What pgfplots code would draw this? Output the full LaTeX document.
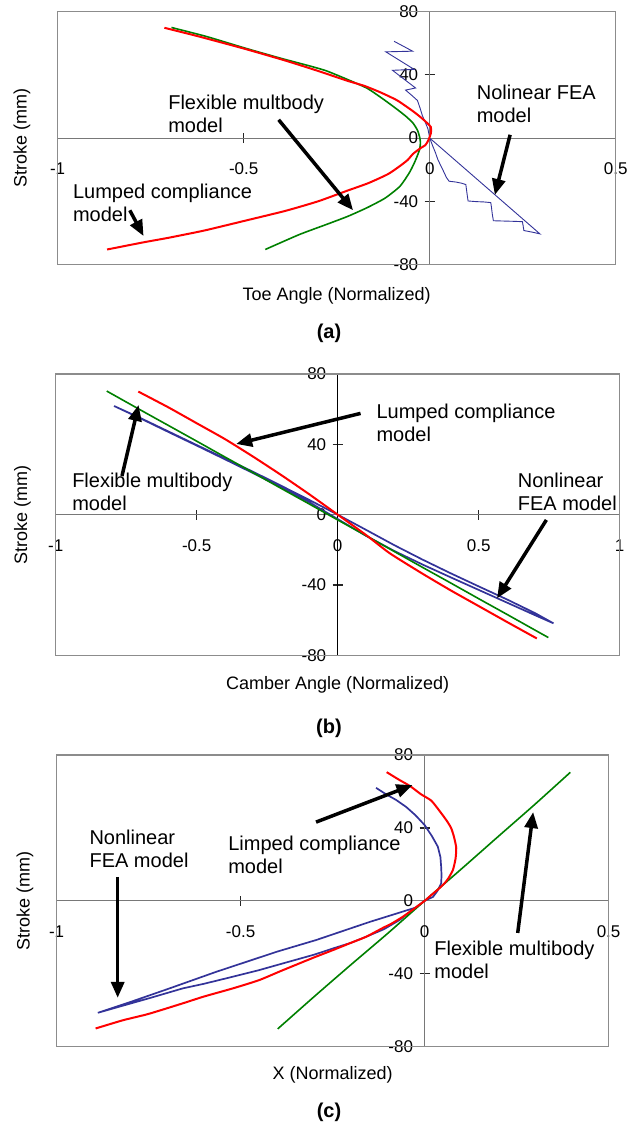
\documentclass[border=0pt]{standalone}
\usepackage{pgfplots}
\pgfplotsset{compat=1.18}
\usepackage{fontspec}
\setmainfont{Liberation Sans}
\usetikzlibrary{arrows.meta}

\definecolor{xlred}{RGB}{255,0,0}
\definecolor{xlgreen}{RGB}{0,128,0}
\definecolor{xlblue}{RGB}{51,51,153}
\definecolor{axgray}{RGB}{120,120,120}
\definecolor{framegray}{RGB}{140,140,140}

\newcommand{\annot}{\fontsize{20}{23}\selectfont}
\newcommand{\titlefont}{\fontsize{18}{21}\selectfont}
\tikzset{callout/.style={line width=3.5pt, black, -{Triangle[length=16pt,width=13pt]}}}

\pgfplotsset{
  panel/.style={
    scale only axis, anchor=south west,
    axis lines=middle,
    axis line style={line width=1.2pt, color=axgray},
    every inner x axis line/.append style={-},
    every inner y axis line/.append style={-},
    ymin=-80, ymax=80,
    ytick={-80,-40,0,40,80},
    yticklabels={-80,-40,0,40,80},
    tick align=center, major tick length=10pt,
    tick style={line width=1.2pt, color=black!85},
    hide obscured x ticks=false, hide obscured y ticks=false,
    tick label style={font=\fontsize{17}{20}\selectfont},
    xticklabel style={anchor=center, yshift=-26pt},
    yticklabel style={anchor=east, xshift=-3pt},
    ylabel={Stroke (mm)},
    every axis y label/.style={rotate=90, anchor=center, font=\titlefont},
    every axis x label/.style={anchor=center, font=\titlefont},
    clip=false,
    after end axis/.code={\draw[framegray, line width=1.2pt] (rel axis cs:0,0) rectangle (rel axis cs:1,1);},
  },
  red curve/.style={xlred, line width=2pt, no marks, smooth, tension=0.35},
  green curve/.style={xlgreen, line width=1.6pt, no marks, smooth, tension=0.35},
  blue curve/.style={xlblue, line width=1.7pt, no marks},
}

\begin{document}
\begin{tikzpicture}
\useasboundingbox (0pt,0pt) rectangle (639pt,-1125pt);

% ---------------- (a) toe angle ----------------
\begin{axis}[panel,
  at={(57.6pt,-264.5pt)}, width=558.2pt, height=252.8pt,
  xmin=-1, xmax=0.5,
  xtick={-1,-0.5,0,0.5}, xticklabels={-1,-0.5,0,0.5},
  xlabel={Toe Angle (Normalized)},
  xlabel style={at={(rel axis cs:0.5,-0.1246)}},
  ylabel style={at={(rel axis cs:-0.0638,0.5)}},
]
\addplot[xlblue, line width=0.9pt, no marks] coordinates {
 (-0.096,61.3) (-0.046,55) (-0.118,54.6) (-0.042,43.5) (-0.100,42.9)
 (-0.069,37.3) (-0.038,31.7) (-0.065,30.4) (-0.048,27) (-0.033,23.8)
 (-0.026,19) (-0.020,14.4) (-0.012,10) (-0.005,6) (0,0)
 (0.008,-5) (0.015,-9) (0.022,-13.7) (0.035,-20) (0.045,-25)
 (0.052,-27.3) (0.070,-27.8) (0.085,-28.5) (0.097,-29.4) (0.099,-33)
 (0.101,-36.5) (0.103,-39.8) (0.125,-40.2) (0.145,-40.4) (0.164,-40.8)
 (0.166,-44) (0.168,-48) (0.171,-52.3) (0.200,-52.5) (0.230,-52.7)
 (0.249,-52.9) (0.251,-55.5) (0.253,-58.5) (0.275,-59.5) (0.296,-60.6)
 (0,0)
};
\addplot[green curve] coordinates {
 (-0.694,70) (-0.6,64.3) (-0.497,57) (-0.4,50.5) (-0.32,45.5)
 (-0.277,42.5) (-0.22,37) (-0.168,31.5) (-0.13,25.5) (-0.095,19.5)
 (-0.065,14) (-0.045,9.5) (-0.033,5) (-0.027,0.5) (-0.025,-3)
 (-0.027,-7) (-0.033,-11) (-0.042,-16) (-0.055,-22) (-0.08,-30.5)
 (-0.12,-38) (-0.168,-44) (-0.22,-49.5) (-0.277,-54.6) (-0.35,-61)
 (-0.442,-70.5)
};
\addplot[red curve] coordinates {
 (-0.713,69.8) (-0.62,64.3) (-0.497,56.5) (-0.387,49) (-0.3,42.5)
 (-0.223,36.4) (-0.175,33) (-0.132,28.9) (-0.087,23.8) (-0.042,16.5)
 (-0.015,11.3) (0.003,7) (0.003,3) (-0.004,-1.5) (-0.012,-4.5)
 (-0.025,-6.4) (-0.045,-10) (-0.06,-14) (-0.085,-18.5) (-0.113,-22.9)
 (-0.165,-28.5) (-0.223,-33.4) (-0.3,-40) (-0.387,-46) (-0.5,-52.5)
 (-0.606,-58.5) (-0.7,-63) (-0.77,-66) (-0.867,-70.5)
};
\node[anchor=north west, align=left, inner sep=0pt, font=\annot] at (axis cs:-0.703,27.3) {Flexible multbody\\model};
\draw[callout] (axis cs:-0.406,11.6) -- (axis cs:-0.206,-45.7);
\node[anchor=north west, align=left, inner sep=0pt, font=\annot] at (axis cs:-0.959,-29.2) {Lumped compliance\\model};
\draw[callout] (axis cs:-0.806,-45.7) -- (axis cs:-0.769,-62);
\node[anchor=north west, align=left, inner sep=0pt, font=\annot] at (axis cs:0.126,33.6) {Nolinear FEA\\model};
\draw[callout] (axis cs:0.216,2.1) -- (axis cs:0.175,-36);
\end{axis}
\node[font=\bfseries\fontsize{20}{24}\selectfont] at (329pt,-333pt) {(a)};

% ---------------- (b) camber angle ----------------
\begin{axis}[panel,
  at={(55.7pt,-655.3pt)}, width=564pt, height=281.3pt,
  xmin=-1, xmax=1,
  xtick={-1,-0.5,0,0.5,1}, xticklabels={-1,-0.5,0,0.5,1},
  y axis line style={color=black},
  xlabel={Camber Angle (Normalized)},
  xlabel style={at={(rel axis cs:0.5,-0.1056)}},
  ylabel style={at={(rel axis cs:-0.0589,0.5)}},
]
\addplot[blue curve] coordinates {
 (-0.793,61.8) (-0.7,55) (-0.6,47.3) (-0.5,39.6) (-0.4,32) (-0.3,24.4)
 (-0.2,16.4) (-0.1,8.3) (0,0) (0.1,-8.6) (0.2,-17.3) (0.3,-25.5)
 (0.4,-33.3) (0.5,-40.8) (0.6,-48.2) (0.7,-56) (0.765,-61.8)
 (0.7,-57.2) (0.6,-50) (0.5,-42.8) (0.4,-35.6) (0.3,-28.3) (0.2,-20.6)
 (0.1,-12) (0,-2.5) (-0.1,7) (-0.2,15.5) (-0.3,23.6) (-0.4,31.5)
 (-0.5,39.3) (-0.6,47) (-0.7,54.8) (-0.793,61.8)
};
\addplot[green curve] coordinates {
 (-0.819,70.3) (-0.7,59.6) (-0.6,50.7) (-0.5,41.8) (-0.4,32.8) (-0.3,23.9)
 (-0.2,14.9) (-0.1,6) (0,-3) (0.1,-11.9) (0.2,-20.9) (0.3,-29.9)
 (0.4,-38.8) (0.5,-47.8) (0.6,-56.7) (0.7,-65.7) (0.747,-69.9)
};
\addplot[red curve] coordinates {
 (-0.707,70) (-0.6,61) (-0.5,52) (-0.4,43) (-0.3,33) (-0.2,22.5)
 (-0.1,11.5) (0,0) (0.1,-11.5) (0.185,-22) (0.3,-33.5) (0.4,-43)
 (0.5,-52) (0.6,-61) (0.706,-70.4)
};
\node[anchor=north west, align=left, inner sep=0pt, font=\annot] at (axis cs:0.137,62.8) {Lumped compliance\\model};
\draw[callout] (axis cs:0.081,57.6) -- (axis cs:-0.36,40.2);
\node[anchor=north west, align=left, inner sep=0pt, font=\annot] at (axis cs:-0.942,23.9) {Flexible multibody\\model};
\draw[callout] (axis cs:-0.765,22) -- (axis cs:-0.706,62.4);
\node[anchor=north west, align=left, inner sep=0pt, font=\annot] at (axis cs:0.638,23.9) {Nonlinear\\FEA model};
\draw[callout] (axis cs:0.74,-3) -- (axis cs:0.565,-47.6);
\end{axis}
\node[font=\bfseries\fontsize{20}{24}\selectfont] at (329pt,-728pt) {(b)};

% ---------------- (c) longitudinal X ----------------
\begin{axis}[panel,
  at={(56.6pt,-1046.7pt)}, width=552pt, height=291.7pt,
  xmin=-1, xmax=0.5,
  xtick={-1,-0.5,0,0.5}, xticklabels={-1,-0.5,0,0.5},
  xlabel={X (Normalized)},
  xlabel style={at={(rel axis cs:0.5,-0.095)}},
  ylabel style={at={(rel axis cs:-0.0572,0.5)}},
]
\addplot[blue curve] coordinates {
 (-0.132,62) (-0.105,58.5) (-0.077,55.3) (-0.05,51.5) (-0.025,47) (0,41.6)
 (0.02,35.5) (0.036,29.7) (0.043,24) (0.045,18.7) (0.046,14) (0.045,9.6)
 (0.035,5.5) (0.023,2.2) (0,0) (-0.03,-4.5) (-0.068,-10.5) (-0.11,-15.5)
 (-0.159,-19.7) (-0.2,-23) (-0.249,-26.1) (-0.3,-29.5) (-0.385,-34.3)
 (-0.45,-38) (-0.521,-41.6) (-0.6,-45.5) (-0.657,-48) (-0.75,-53.5)
 (-0.82,-57.5) (-0.888,-61.4) (-0.8,-55.5) (-0.7,-48.5) (-0.566,-38.9)
 (-0.4,-27.8) (-0.295,-21.5) (-0.15,-11.6) (-0.023,-3.6) (0,0)
};
\addplot[green curve] coordinates {
 (-0.399,-70.2) (-0.3,-52.5) (-0.2,-35) (-0.1,-17.8) (0,0)
 (0.1,17.5) (0.2,35.3) (0.3,53) (0.396,70.5)
};
\addplot[red curve] coordinates {
 (-0.103,70.6) (-0.07,66.5) (-0.039,62.9) (-0.01,58.5) (0.018,55)
 (0.04,49.5) (0.06,44) (0.072,40) (0.08,35) (0.086,29) (0.084,23)
 (0.077,17) (0.065,12.5) (0.054,9.6) (0.035,6) (0.02,3.5) (0,0)
 (-0.03,-4.5) (-0.059,-8.7) (-0.09,-12.5) (-0.113,-14.8) (-0.159,-19.7)
 (-0.2,-23) (-0.249,-27) (-0.3,-31) (-0.385,-38) (-0.45,-43.5)
 (-0.521,-48) (-0.6,-52.5) (-0.657,-56.2) (-0.75,-62) (-0.82,-65.5)
 (-0.894,-70)
};
\node[anchor=north west, align=left, inner sep=0pt, font=\annot] at (axis cs:-0.911,38.8) {Nonlinear\\FEA model};
\draw[callout] (axis cs:-0.834,13.2) -- (axis cs:-0.834,-53.2);
\node[anchor=north west, align=left, inner sep=0pt, font=\annot] at (axis cs:-0.534,35.5) {Limped compliance\\model};
\draw[callout] (axis cs:-0.295,43.2) -- (axis cs:-0.033,63.5);
\node[anchor=north west, align=left, inner sep=0pt, font=\annot] at (axis cs:0.026,-22.1) {Flexible multibody\\model};
\draw[callout] (axis cs:0.253,-17.6) -- (axis cs:0.295,48.7);
\end{axis}
\node[font=\bfseries\fontsize{20}{24}\selectfont] at (329pt,-1112.7pt) {(c)};
\end{tikzpicture}
\end{document}
